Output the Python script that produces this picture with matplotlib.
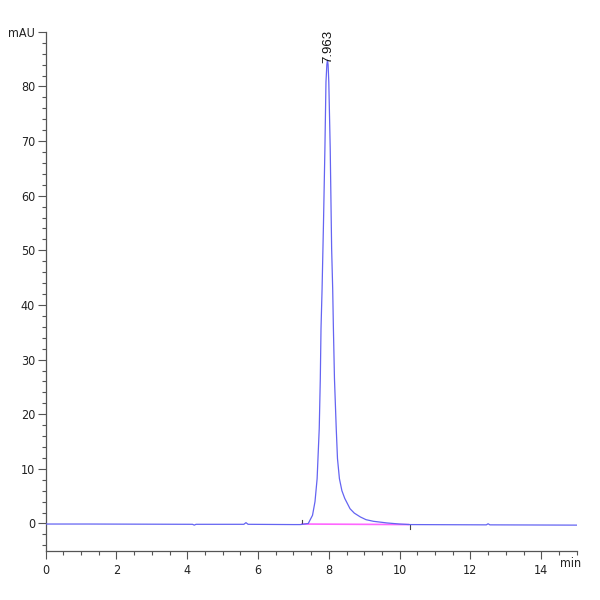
import matplotlib
matplotlib.use('Agg')
import numpy as np
import matplotlib.pyplot as plt

# chromatogram (time in min, signal in mAU)
time_min = [0.0, 1.2, 4.15, 4.2, 4.25, 5.6, 5.66, 5.72, 7.0, 7.2, 7.42, 7.54, 7.61,
            7.67, 7.73, 7.76, 7.78, 7.81, 7.85, 7.89, 7.92, 7.945, 7.963, 7.98,
            8.00, 8.04, 8.08, 8.11, 8.13, 8.16, 8.21, 8.245, 8.30, 8.37, 8.45,
            8.60, 8.72, 8.89, 9.05, 9.26, 9.64, 10.0, 10.3, 12.45, 12.5, 12.55, 15.0]
signal_mau = [-0.1, -0.1, -0.15, -0.3, -0.15, -0.15, 0.15, -0.15, -0.2, -0.2, 0.0, 1.5, 4.0,
              8.2, 17.4, 26.5, 35.7, 42.9, 55.0, 68.6, 80.8, 84.0, 84.8, 84.0,
              80.8, 68.6, 50.3, 42.9, 35.7, 26.5, 17.4, 11.9, 8.2, 6.0, 4.6,
              2.7, 1.9, 1.2, 0.7, 0.4, 0.1, -0.1, -0.2, -0.25, -0.05, -0.25, -0.3]

# integration baseline and peak events
base_t = [7.24, 10.25]
base_y = [-0.1, -0.2]
peak_rt = 7.963
peak_h = 84.8

y_ticks = [0, 10, 20, 30, 40, 50, 60, 70, 80, 90]
y_labels = ['0', '10', '20', '30', '40', '50', '60', '70', '80', 'mAU']
x_ticks = [0, 2, 4, 6, 8, 10, 12, 14]

fig = plt.figure(figsize=(6, 6), dpi=100)
ax = fig.add_axes([0.076, 0.082, 0.885, 0.865])

ax.plot(time_min, signal_mau, color='#6464f2', lw=0.9, zorder=3)
ax.plot(base_t, base_y, color='#ff66ff', lw=1.2, zorder=2)
ax.plot([base_t[0], base_t[0]], [0.0, 0.7], color='#444444', lw=0.8)
ax.plot([10.3, 10.3], [-0.3, -1.1], color='#444444', lw=0.8)

ax.text(peak_rt + 0.03, peak_h - 0.6, '%.3f' % peak_rt, rotation=90,
        ha='center', va='bottom', fontsize=9.5, family='Liberation Sans', color='#111111')

ax.set_xlim(0, 15)
ax.set_ylim(-5, 90)
for s in ['top', 'right']:
    ax.spines[s].set_visible(False)
for s in ['left', 'bottom']:
    ax.spines[s].set_color('#555555')
    ax.spines[s].set_linewidth(0.9)

ax.set_xticks(x_ticks)
ax.set_xticks(np.arange(0, 15.01, 0.5), minor=True)
ax.set_yticks(y_ticks)
ax.set_yticklabels(y_labels)
ax.set_yticks(np.arange(-4, 90, 2), minor=True)
ax.tick_params(which='major', length=6, width=0.8, color='#555555', labelcolor='#222222', labelsize=9)
ax.tick_params(which='minor', length=3, width=0.8, color='#555555')
ax.tick_params(axis='y', which='major', pad=1.5)
for lab in ax.get_xticklabels() + ax.get_yticklabels():
    lab.set_family('DejaVu Sans')
    lab.set_stretch('condensed')

ax.text(0.989, -0.012, 'min', transform=ax.transAxes, ha='center', va='top',
        fontsize=9, family='DejaVu Sans', stretch='condensed', color='#222222')

fig.savefig('out.png', dpi=100)
